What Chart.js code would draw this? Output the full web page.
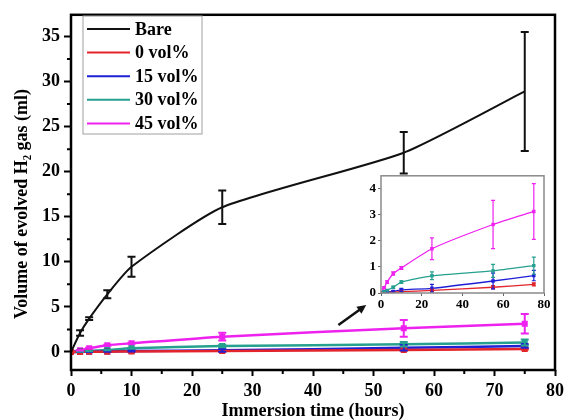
<!DOCTYPE html>
<html>
<head>
<meta charset="utf-8">
<script src="https://cdn.jsdelivr.net/npm/chart.js@4.4.1/dist/chart.umd.min.js"></script>
<style>
  body { margin: 0; background: #fff; }
  #wrap { position: relative; width: 569px; height: 420px; }
  #main { position: absolute; left: 0; top: 0; }
  #inset { position: absolute; left: 360px; top: 166px; }
</style>
</head>
<body>
<div id="wrap">
  <canvas id="main" width="569" height="420"></canvas>
  <canvas id="inset" width="196" height="150"></canvas>
</div>
<script>
const HOURS = [0, 1.5, 3, 6, 10, 25, 55, 75];
const LABELS = ['Bare', '0 vol%', '15 vol%', '30 vol%', '45 vol%'];
const COLORS = ['#111111', '#e3242b', '#1f1fd6', '#26a08f', '#ee22ee'];

const BARE = [0, 2.1, 3.7, 6.4, 9.45, 16.05, 22.1, 28.9];
const BARE_ERR = [0, 0.3, 0.15, 0.45, 1.1, 1.85, 2.3, 6.6];
const VOL0 = [0, 0.01, 0.02, 0.03, 0.05, 0.1, 0.22, 0.33];
const VOL0_ERR = [0, 0, 0, 0.01, 0.02, 0.04, 0.06, 0.06];
const VOL15 = [0, 0.02, 0.03, 0.06, 0.12, 0.18, 0.46, 0.67];
const VOL15_ERR = [0, 0.01, 0.02, 0.03, 0.06, 0.15, 0.3, 0.2];
const VOL30 = [0, 0.05, 0.1, 0.22, 0.42, 0.66, 0.85, 1.05];
const VOL30_ERR = [0, 0.02, 0.03, 0.04, 0.05, 0.15, 0.25, 0.33];
const VOL45 = [0, 0.2, 0.42, 0.75, 0.96, 1.7, 2.63, 3.13];
const VOL45_ERR = [0, 0.03, 0.05, 0.06, 0.05, 0.42, 0.93, 1.07];

const X_TICKS = [0, 10, 20, 30, 40, 50, 60, 70, 80];
const Y_TICKS = [0, 5, 10, 15, 20, 25, 30, 35];
const X_MINOR = [5, 15, 25, 35, 45, 55, 65, 75];
const Y_MINOR = [2.5, 7.5, 12.5, 17.5, 22.5, 27.5, 32.5];
const INSET_X_TICKS = [0, 20, 40, 60, 80];
const INSET_Y_TICKS = [0, 1, 2, 3, 4];

const SERIF = '"Liberation Serif", "Times New Roman", serif';
const VALUES = [BARE, VOL0, VOL15, VOL30, VOL45];
const ERRORS = [BARE_ERR, VOL0_ERR, VOL15_ERR, VOL30_ERR, VOL45_ERR];

function points(vals) {
  return HOURS.map((h, i) => ({ x: h, y: vals[i] }));
}

// error bars drawn through the chart's own scales
const errorBars = {
  id: 'errorBars',
  afterDatasetsDraw(chart, args, o) {
    const { ctx } = chart;
    const xs = chart.scales.x, ys = chart.scales.y;
    ctx.save();
    chart.data.datasets.forEach(ds => {
      if (!ds.err) return;
      ctx.strokeStyle = ds.borderColor;
      ctx.lineWidth = o.width;
      ds.data.forEach((p, j) => {
        const e = ds.err[j];
        if (!e) return;
        const px = xs.getPixelForValue(p.x);
        const top = ys.getPixelForValue(p.y + e);
        const bot = ys.getPixelForValue(p.y - e);
        ctx.beginPath();
        ctx.moveTo(px, top); ctx.lineTo(px, bot);
        ctx.moveTo(px - o.cap, top); ctx.lineTo(px + o.cap, top);
        ctx.moveTo(px - o.cap, bot); ctx.lineTo(px + o.cap, bot);
        ctx.stroke();
      });
    });
    ctx.restore();
  }
};

// box around the plot, minor ticks
const frame = {
  id: 'frame',
  beforeDraw(chart, args, o) {
    if (!o.fill) return;
    const { ctx, chartArea: a } = chart;
    ctx.save();
    ctx.fillStyle = o.fill;
    ctx.fillRect(a.left, a.top, a.right - a.left, a.bottom - a.top);
    ctx.restore();
  },
  afterDraw(chart, args, o) {
    const { ctx, chartArea: a } = chart;
    ctx.save();
    ctx.strokeStyle = o.color;
    ctx.lineWidth = o.width;
    ctx.strokeRect(a.left, a.top, a.right - a.left, a.bottom - a.top);
    if (o.minor) {
      ctx.lineWidth = 2;
      ctx.beginPath();
      X_MINOR.forEach(v => {
        const px = chart.scales.x.getPixelForValue(v);
        ctx.moveTo(px, a.bottom); ctx.lineTo(px, a.bottom + 4);
      });
      Y_MINOR.forEach(v => {
        const py = chart.scales.y.getPixelForValue(v);
        ctx.moveTo(a.left, py); ctx.lineTo(a.left - 4, py);
      });
      ctx.stroke();
    }
    ctx.restore();
  }
};

const boxLegend = {
  id: 'boxLegend',
  afterDraw(chart, args, o) {
    const { ctx } = chart;
    ctx.save();
    ctx.strokeStyle = '#a0a0a0';
    ctx.lineWidth = 1;
    ctx.strokeRect(o.x, o.y, o.w, o.h);
    ctx.font = 'bold 18px ' + SERIF;
    ctx.textBaseline = 'middle';
    ctx.fillStyle = '#000';
    chart.data.datasets.forEach((ds, i) => {
      const y = o.y + 13 + i * 23.6;
      ctx.strokeStyle = ds.borderColor;
      ctx.lineWidth = 2;
      ctx.beginPath();
      ctx.moveTo(o.x + 4, y); ctx.lineTo(o.x + 47, y);
      ctx.stroke();
      ctx.fillText(ds.label, o.x + 52, y + 1);
    });
    ctx.restore();
  }
};

const extras = {
  id: 'extras',
  afterDraw(chart, args, o) {
    const { ctx } = chart;
    const xs = chart.scales.x, ys = chart.scales.y;
    ctx.save();
    // y title
    ctx.translate(o.yTitleX, o.yTitleY);
    ctx.rotate(-Math.PI / 2);
    ctx.font = 'bold 18px ' + SERIF;
    ctx.fillStyle = '#000';
    ctx.textAlign = 'center';
    ctx.textBaseline = 'middle';
    ctx.fillText('Volume of evolved H\u2082 gas (ml)', 0, 0);
    ctx.restore();
    // arrow pointing to the inset
    const x0 = xs.getPixelForValue(o.arrow[0][0]), y0 = ys.getPixelForValue(o.arrow[0][1]);
    const x1 = xs.getPixelForValue(o.arrow[1][0]), y1 = ys.getPixelForValue(o.arrow[1][1]);
    const ang = Math.atan2(y1 - y0, x1 - x0);
    ctx.save();
    ctx.strokeStyle = '#111'; ctx.fillStyle = '#111'; ctx.lineWidth = 2.5;
    ctx.beginPath();
    ctx.moveTo(x0, y0);
    ctx.lineTo(x1 - 6 * Math.cos(ang), y1 - 6 * Math.sin(ang));
    ctx.stroke();
    ctx.beginPath();
    ctx.moveTo(x1, y1);
    ctx.lineTo(x1 - 10 * Math.cos(ang - 0.45), y1 - 10 * Math.sin(ang - 0.45));
    ctx.lineTo(x1 - 10 * Math.cos(ang + 0.45), y1 - 10 * Math.sin(ang + 0.45));
    ctx.closePath();
    ctx.fill();
    ctx.restore();
  }
};

const mainSets = LABELS.map((label, i) => ({
  label,
  data: points(VALUES[i]),
  err: ERRORS[i],
  borderColor: COLORS[i],
  backgroundColor: COLORS[i],
  borderWidth: i === 0 ? 2 : 2.5,
  pointStyle: 'rect',
  pointRadius: i === 0 ? 0 : 2.5,
  tension: 0.2
}));

const tickFont = { family: SERIF, size: 18, weight: 'bold' };

new Chart(document.getElementById('main'), {
  type: 'line',
  data: { datasets: mainSets },
  plugins: [errorBars, frame, boxLegend, extras],
  options: {
    responsive: false,
    animation: false,
    layout: { padding: { left: 0, right: 11, top: 12, bottom: 0 } },
    plugins: {
      legend: { display: false },
      tooltip: { enabled: false },
      errorBars: { width: 2, cap: 4 },
      frame: { color: '#000', width: 2.5, minor: true },
      boxLegend: { x: 83, y: 16, w: 119, h: 118 },
      extras: { yTitleX: 22, yTitleY: 204, arrow: [[44.2, 3.0], [48.8, 5.2]] }
    },
    scales: {
      x: {
        type: 'linear', min: 0, max: 80,
        afterBuildTicks: s => { s.ticks = X_TICKS.map(v => ({ value: v })); },
        afterFit: s => { s.height = 50; },
        border: { display: false },
        grid: { drawOnChartArea: false, tickLength: 6, tickWidth: 2, tickColor: '#000' },
        ticks: { color: '#000', font: tickFont, padding: 5, maxRotation: 0 },
        title: { display: true, text: 'Immersion time (hours)', color: '#000', font: tickFont, padding: { top: 0, bottom: -2 } }
      },
      y: {
        type: 'linear', min: -2, max: 37.4,
        afterBuildTicks: s => { s.ticks = Y_TICKS.map(v => ({ value: v })); },
        afterFit: s => { s.width = 71; },
        border: { display: false },
        grid: { drawOnChartArea: false, tickLength: 7, tickWidth: 2, tickColor: '#000' },
        ticks: { color: '#000', font: tickFont, padding: 4 }
      }
    }
  }
});

const insetSets = LABELS.slice(1).map((label, k) => {
  const i = k + 1;
  return {
    label,
    data: points(VALUES[i]),
    err: ERRORS[i],
    borderColor: COLORS[i],
    backgroundColor: COLORS[i],
    borderWidth: 1.3,
    pointStyle: 'rect',
    pointRadius: 1.5,
    tension: 0.2
  };
});

const smallFont = { family: SERIF, size: 13, weight: 'bold' };

new Chart(document.getElementById('inset'), {
  type: 'line',
  data: { datasets: insetSets },
  plugins: [errorBars, frame],
  options: {
    responsive: false,
    animation: false,
    layout: { padding: { left: 0, right: 12, top: 7, bottom: 0 } },
    plugins: {
      legend: { display: false },
      tooltip: { enabled: false },
      errorBars: { width: 1.2, cap: 2 },
      frame: { color: '#8a8a8a', width: 1.5, fill: '#fff' }
    },
    scales: {
      x: {
        type: 'linear', min: 0, max: 80,
        afterBuildTicks: s => { s.ticks = INSET_X_TICKS.map(v => ({ value: v })); },
        afterFit: s => { s.height = 23; },
        border: { display: false },
        grid: { drawOnChartArea: false, tickLength: 3, tickWidth: 1, tickColor: '#666' },
        ticks: { color: '#000', font: smallFont, padding: 1, maxRotation: 0 }
      },
      y: {
        type: 'linear', min: 0, max: 4.5,
        afterBuildTicks: s => { s.ticks = INSET_Y_TICKS.map(v => ({ value: v })); },
        afterFit: s => { s.width = 21; },
        border: { display: false },
        grid: { drawOnChartArea: false, tickLength: 3, tickWidth: 1, tickColor: '#666' },
        ticks: { color: '#000', font: smallFont, padding: 2 }
      }
    }
  }
});
</script>
</body>
</html>
